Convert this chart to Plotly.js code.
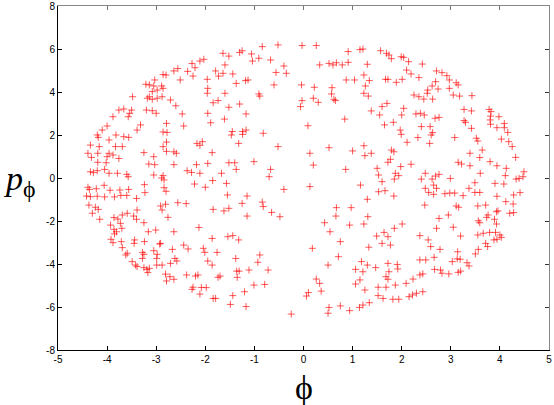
<!DOCTYPE html>
<html>
<head>
<meta charset="utf-8">
<script src="https://cdn.plot.ly/plotly-3.0.1.min.js"></script>
<style>html,body{margin:0;padding:0;background:#fff;}#chart{width:554px;height:405px;}</style>
</head>
<body>
<div id="chart"></div>
<script>
// phi values (x) of the surface-of-section points
const phiLeftTop = [-2.27,-2.11,-2.21,-2.36,-2.56,-2.64,-2.80,-2.86,-2.25,-2.51,-3.03,-3.21,-3.14,-3.05,-2.89,-2.98,-2.86,-3.08,-3.14,-3.08,-2.98,-2.88,-2.71,-3.48,-3.18,-3.20,-3.08,-3.00,-2.60,-2.47,-3.76,-3.66,-3.54,-3.50,-3.57,-3.88,-4.00,-4.10,-3.32,-3.39,-2.79,-2.86,-2.78,-2.44,-4.20,-4.18,-3.82,-3.66,-3.56,-3.96,-4.34,-4.16,-3.83,-3.69,-4.19,-4.39,-4.32,-4.00,-3.96,-3.88,-3.76,-4.19,-4.02,-3.25,-3.05,-2.86,-2.79,-2.64,-2.59,-2.79,-3.15,-3.03,-2.64,-2.17,-2.11,-2.37,-2.28,-2.18,-2.11,-4.34,-4.28,-4.20,-4.05,-3.96,-3.79,-3.60,-3.57,-3.05,-2.86,-2.84,-2.89,-2.22,-4.39,-4.36,-4.22,-4.06,-3.94,-3.74,-3.56,-3.24,-3.23,-2.84,-2.80,-4.42,-4.34,-4.20,-4.05,-3.85,-3.72,-3.60,-3.40];
const pLeftTop = [5.33,5.44,5.13,4.96,5.09,4.98,4.79,4.81,4.74,4.56,4.56,4.36,4.33,4.28,4.28,4.09,4.17,4.02,3.78,3.66,3.71,3.78,3.63,3.78,3.71,3.16,3.13,3.01,3.36,2.98,3.16,3.21,3.01,3.16,2.85,2.85,2.42,2.23,2.47,2.23,2.54,2.14,2.12,2.42,2.00,1.89,2.00,1.92,1.89,1.77,1.53,1.46,1.46,1.46,1.15,1.15,0.96,0.99,1.15,1.07,0.91,0.73,0.71,1.18,0.99,1.46,1.24,1.22,1.15,1.67,0.65,0.62,0.62,1.61,1.52,0.34,0.26,0.62,0.22,0.29,0.25,0.34,0.40,0.22,0.22,0.17,0.06,0.14,0.11,-0.09,0.00,-0.28,-0.43,-0.53,-0.50,-0.34,-0.57,-0.56,-0.53,-0.31,-0.68,-0.45,-0.62,-0.84,-0.87,-0.85,-0.88,-0.88,-0.81,-0.81,-0.95];

const phiMidTop = [-2.03,-1.64,-1.52,-1.30,-1.25,-1.06,-1.04,-0.91,-0.84,-0.52,-0.03,0.26,-0.67,-0.40,-0.35,-0.56,-1.60,-1.79,-1.73,-1.64,-1.44,-1.96,-1.37,-1.18,-1.13,-1.95,-1.96,-1.60,-1.84,-1.74,-1.52,-1.30,-1.17,-1.95,-1.61,-1.89,-0.91,-0.89,-0.60,-0.04,0.22,-0.03,-0.06,0.20,0.30,0.09,0.13,0.13,-1.45,-1.24,-1.24,-1.17,-1.47,-0.82,-1.32,-2.06,-1.86,-0.52,-1.95,-1.52,-1.40,-1.37,-1.01,-0.67,-0.70,-1.67,-1.85,-2.00,-1.57,-1.55,-1.15,-0.40,0.20,0.33,0.52,0.60,0.67,0.79,0.91,0.91,1.21,1.15,0.87,1.04,1.23,1.34,1.26,1.23,1.32,0.58,0.57,0.62,0.65,1.38,1.55,0.84,0.52,1.00,1.23,1.25,1.38,0.86,1.50,1.53,1.16,1.53,1.30,1.30];
const pMidTop = [5.52,5.80,5.67,5.84,5.92,5.77,5.44,5.57,6.11,6.19,6.16,6.16,5.49,5.21,4.87,4.91,5.26,4.98,4.74,4.87,4.84,4.59,4.40,4.53,4.56,4.17,3.94,3.94,3.50,3.60,3.29,3.44,2.98,3.01,2.74,2.57,3.91,3.81,4.33,4.33,4.22,3.60,3.32,3.71,3.52,2.43,1.15,-0.40,2.16,2.16,2.03,2.23,2.00,2.08,1.61,1.69,1.18,1.46,0.68,0.71,0.71,0.40,0.76,0.40,0.06,0.22,-0.12,-0.43,-0.25,-0.79,-0.84,-0.53,0.60,5.26,5.33,5.26,5.36,5.26,5.38,5.88,6.00,5.97,4.56,4.56,4.79,4.53,4.28,3.94,3.81,4.20,3.91,3.66,3.60,3.12,2.93,2.74,1.41,1.26,1.50,1.04,1.15,0.40,0.45,0.14,-0.33,-0.64,-0.99,5.29];

const phiRightTop = [1.57,1.69,1.74,1.79,1.99,2.04,2.14,2.42,2.10,2.19,2.35,2.71,2.82,2.92,1.67,1.72,1.89,2.01,2.69,2.97,3.11,3.15,2.62,2.74,2.53,2.52,2.97,3.18,3.43,3.05,2.25,2.35,2.45,2.63,1.70,2.04,1.60,2.00,2.29,2.38,2.46,2.68,2.76,3.27,3.42,3.78,3.82,3.98,3.81,3.27,3.30,3.42,3.80,3.81,4.09,3.94,4.09,4.16,1.65,1.83,1.97,1.99,2.40,2.58,2.63,2.60,2.33,2.11,2.57,3.08,3.52,3.55,4.03,4.18,4.25,1.79,1.84,1.72,2.19,1.98,1.77,3.39,3.64,3.59,3.80,3.94,4.13,4.32,3.15,3.22,3.39,3.60,2.48,2.76,2.69,2.40,2.62,2.99,1.87,1.94,1.85,1.60,4.11,4.33,4.39,4.47,4.49,3.90,4.08,3.49,3.37,3.49,3.59,2.65,2.71,2.48,2.55,2.65,2.88,2.98,3.08,3.25,3.94,4.28,4.41,1.66,1.84];
const pRightTop = [5.92,5.80,5.72,5.55,5.64,5.61,5.41,5.30,5.02,4.84,4.67,4.98,4.90,4.76,4.59,4.59,4.45,4.59,4.48,4.56,4.43,4.33,4.28,4.14,4.09,3.94,4.17,3.81,3.83,3.86,3.86,3.78,3.67,3.67,3.47,3.24,3.32,2.93,2.98,3.01,2.93,2.78,2.82,3.19,3.12,3.19,3.09,2.85,2.88,2.67,2.59,2.31,2.70,2.50,2.54,2.34,2.34,2.12,2.47,2.59,2.23,2.03,2.39,2.39,2.11,2.00,1.88,1.66,1.61,1.88,1.85,1.72,1.81,1.69,1.46,1.30,1.22,0.73,0.64,0.53,0.87,1.15,1.30,0.95,0.76,0.57,0.45,0.96,0.73,0.65,0.57,0.22,0.22,0.17,0.09,-0.05,-0.05,-0.02,0.22,0.11,-0.05,-0.17,0.11,-0.05,-0.02,0.06,0.29,-0.25,-0.28,-0.22,-0.48,-0.67,-0.67,-0.33,-0.48,-0.48,-0.67,-0.76,-0.73,-0.70,-0.70,-0.82,-0.85,-0.79,-0.68,-0.59,-0.84];

const phiLeftBottom = [-4.37,-4.24,-4.18,-4.30,-4.15,-3.86,-3.78,-3.69,-3.59,-3.46,-3.40,-3.73,-3.93,-3.86,-3.81,-3.85,-3.70,-3.25,-3.16,-3.01,-2.91,-3.92,-3.88,-3.71,-3.69,-3.44,-3.45,-3.24,-3.59,-3.62,-3.28,-3.25,-3.28,-3.05,-2.98,-2.99,-2.67,-2.62,-2.58,-2.71,-2.99,-2.88,-3.49,-3.42,-3.39,-3.25,-3.19,-3.14,-3.17,-2.81,-2.79,-2.72,-2.64,-2.64,-2.44,-2.35,-2.38,-2.20,-2.15,-2.25,-2.27,-2.11,-2.56,-2.39,-2.13,-2.76,-2.91,-2.81,-3.39,-2.93,-2.88];
const pLeftBottom = [-1.26,-1.36,-1.46,-1.64,-1.92,-1.84,-1.91,-1.72,-1.64,-1.77,-1.92,-2.11,-2.19,-2.39,-2.50,-2.60,-2.34,-2.08,-2.50,-2.42,-3.04,-2.85,-3.01,-2.96,-3.24,-2.88,-3.04,-2.96,-3.50,-3.58,-3.46,-3.55,-3.74,-3.38,-3.55,-3.74,-3.32,-3.74,-3.86,-3.97,-4.05,-4.05,-3.89,-4.05,-4.12,-4.17,-4.25,-4.20,-4.40,-4.47,-4.79,-4.59,-4.71,-2.50,-3.12,-3.30,-4.51,-4.56,-4.51,-5.08,-5.18,-5.40,-1.15,-1.19,-2.30,-1.83,-1.30,-1.22,-1.49,-3.07,-1.49];

const phiMidBottom = [-1.84,-1.62,-1.52,-1.25,-0.84,-0.82,-1.15,-0.65,-0.48,0.67,0.97,0.66,1.31,0.43,0.94,1.23,0.54,-1.54,-1.44,-1.32,-1.86,-2.04,-2.01,-1.76,-1.95,-1.86,-1.38,-0.89,-0.93,-0.72,-1.11,-1.36,-1.31,-1.74,-1.70,-1.35,-1.01,-0.79,-1.20,-2.08,-1.98,-1.84,-1.79,-1.44,-1.49,-1.17,-0.25,0.06,0.10,0.26,0.33,0.36,0.18,0.50,0.71,0.75,0.52,0.50,0.75,0.94,1.14,1.21,1.34,1.52,1.62,1.82,1.94,1.06,1.15,1.25,1.52,1.68,1.30,1.18,1.21,1.06,1.47,1.68,1.72,1.74,1.92,1.72,1.33,1.64,1.72,1.60,1.77,1.85,1.49];
const pMidBottom = [-1.46,-1.53,-1.41,-1.18,-1.12,-1.33,-1.77,-1.60,-1.80,-1.38,-1.38,-1.77,-1.80,-2.08,-2.19,-2.14,-2.50,-2.73,-2.68,-2.88,-2.81,-3.27,-3.46,-3.46,-3.86,-4.05,-3.74,-3.58,-3.92,-4.28,-4.28,-4.33,-4.33,-4.62,-4.56,-4.62,-4.98,-4.95,-5.29,-5.09,-5.10,-5.60,-5.60,-5.47,-5.88,-5.98,-6.33,-5.49,-5.33,-4.70,-4.90,-5.26,-3.27,-4.05,-3.66,-2.96,-6.02,-6.29,-5.95,-6.17,-6.02,-5.91,-5.80,-5.47,-5.60,-5.64,-5.64,-4.93,-4.74,-5.21,-5.08,-5.08,-4.05,-3.89,-4.36,-4.25,-4.17,-4.59,-4.71,-4.36,-4.23,-3.97,-3.22,-2.53,-2.73,-3.04,-3.12,-2.34,-2.70];

const phiRightBottom = [2.47,3.11,3.16,3.55,3.71,4.12,4.27,2.95,2.76,2.71,3.05,3.20,3.59,3.56,3.73,3.76,3.93,3.96,4.20,4.28,3.89,3.93,3.55,3.66,3.79,3.91,4.00,4.03,3.94,3.71,3.75,3.88,3.50,3.56,3.14,3.19,3.13,3.33,3.37,3.03,3.20,3.15,2.96,2.79,2.82,2.66,2.78,2.59,2.54,2.37,2.49,2.37,2.67,2.43,2.37,2.23,2.09,1.87,2.22,2.30,2.43,2.15,2.01,1.91];
const pRightBottom = [-1.26,-1.30,-1.36,-1.30,-1.26,-1.10,-1.21,-1.72,-1.88,-2.34,-2.29,-2.70,-2.08,-1.99,-1.83,-1.72,-1.57,-1.53,-1.64,-1.61,-1.92,-2.14,-2.65,-2.57,-2.53,-2.53,-2.65,-2.76,-2.85,-3.04,-3.19,-2.88,-3.53,-3.32,-3.43,-3.78,-3.76,-3.94,-4.09,-3.89,-4.33,-4.39,-4.46,-4.28,-4.43,-3.69,-3.32,-3.19,-2.88,-2.68,-3.81,-3.81,-4.25,-4.46,-4.51,-4.70,-4.90,-4.98,-5.44,-5.36,-5.29,-5.52,-2.14,-4.02];

const phiValues = [].concat(phiLeftTop, phiMidTop, phiRightTop, phiLeftBottom, phiMidBottom, phiRightBottom);
const pValues = [].concat(pLeftTop, pMidTop, pRightTop, pLeftBottom, pMidBottom, pRightBottom);

const xTickVals = [-5,-4,-3,-2,-1,0,1,2,3,4,5];
const xTickText = ["-5","-4","-3","-2","-1","0","1","2","3","4","5"];
const yTickVals = [-8,-6,-4,-2,0,2,4,6,8];
const yTickText = ["-8","-6","-4","-2","0","2","4","6","8"];

const tickFont = {family: "Liberation Sans, Arial, sans-serif", size: 10, color: "#000"};
const serif = "Liberation Serif, DejaVu Serif, Times New Roman, serif";

const traces = [
  {
    x: phiValues, y: pValues, type: "scatter", mode: "markers",
    marker: {symbol: "cross-thin", size: 5, color: "rgba(255,0,0,0.65)",
             line: {color: "rgba(255,0,0,0.65)", width: 1}},
    hoverinfo: "x+y", showlegend: false
  },
  {x: [], y: [], xaxis: "x2", yaxis: "y2", type: "scatter", mode: "markers", showlegend: false, hoverinfo: "skip"}
];

const layout = {
  width: 554, height: 405,
  margin: {l: 58, r: 5, t: 6, b: 55, pad: 0},
  paper_bgcolor: "#fff", plot_bgcolor: "#fff",
  showlegend: false,
  xaxis: {range: [-5, 5], tickvals: xTickVals, ticktext: xTickText, ticks: "inside", ticklen: 4,
          tickcolor: "#000", tickwidth: 1, showline: true, linecolor: "#000", linewidth: 1,
          showgrid: false, zeroline: false, tickfont: tickFont, fixedrange: true},
  yaxis: {range: [-8, 8], tickvals: yTickVals, ticktext: yTickText, ticks: "inside", ticklen: 4,
          tickcolor: "#000", tickwidth: 1, showline: true, linecolor: "#000", linewidth: 1,
          showgrid: false, zeroline: false, tickfont: tickFont, fixedrange: true},
  xaxis2: {overlaying: "x", side: "top", anchor: "y", range: [-5, 5], tickvals: xTickVals,
           showticklabels: false, ticks: "inside", ticklen: 4, tickcolor: "#777",
           showline: true, linecolor: "#888", linewidth: 1, showgrid: false, zeroline: false, fixedrange: true},
  yaxis2: {overlaying: "y", side: "right", anchor: "x", range: [-8, 8], tickvals: yTickVals,
           showticklabels: false, ticks: "inside", ticklen: 4, tickcolor: "#333",
           showline: true, linecolor: "#888", linewidth: 1, showgrid: false, zeroline: false, fixedrange: true},
  annotations: [
    {text: "ϕ", xref: "paper", yref: "paper", x: 0.5, y: -0.11, xanchor: "center", yanchor: "middle",
     showarrow: false, font: {family: serif, size: 34, color: "#000"}},
    {text: "<i>p</i><sub>ϕ</sub>", xref: "paper", yref: "paper", x: -0.078, y: 0.49, xanchor: "center", yanchor: "middle",
     showarrow: false, font: {family: serif, size: 34, color: "#000"}}
  ]
};

Plotly.newPlot("chart", traces, layout, {displayModeBar: false, staticPlot: true});
</script>
</body>
</html>
